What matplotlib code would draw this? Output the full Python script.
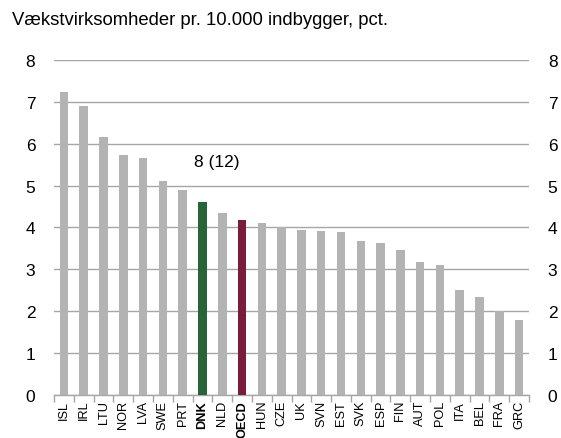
import matplotlib
matplotlib.use("Agg")
import matplotlib.pyplot as plt
import numpy as np

plt.rcParams['font.family'] = ['Liberation Sans', 'DejaVu Sans']

countries = ["ISL", "IRL", "LTU", "NOR", "LVA", "SWE", "PRT", "DNK", "NLD", "OECD",
             "HUN", "CZE", "UK", "SVN", "EST", "SVK", "ESP", "FIN", "AUT", "POL",
             "ITA", "BEL", "FRA", "GRC"]
values = [7.23, 6.90, 6.15, 5.73, 5.65, 5.12, 4.90, 4.62, 4.35, 4.19,
          4.10, 4.02, 3.95, 3.92, 3.89, 3.68, 3.62, 3.47, 3.18, 3.10,
          2.51, 2.34, 2.00, 1.78]
highlight = {"DNK": "#276538", "OECD": "#7b1c3d"}
y_ticks = [0, 1, 2, 3, 4, 5, 6, 7, 8]
title = "Vækstvirksomheder pr. 10.000 indbygger, pct."
annotation = "8 (12)"

fig = plt.figure(figsize=(5.61, 4.39), dpi=100)
ax = fig.add_axes([0.0963, 0.098, 0.8467, 0.763])

x = np.arange(len(countries))
colors = [highlight.get(c, "#b3b3b3") for c in countries]
ax.bar(x, values, width=0.43, color=colors, zorder=3)

ax.set_xlim(-0.5, len(countries) - 0.5)
ax.set_ylim(0, 8)
ax.set_yticks(y_ticks)
ax.yaxis.grid(True, color="#a6a6a6", linewidth=1.0, zorder=0)
ax.set_axisbelow(True)

for s in ["left", "right", "top"]:
    ax.spines[s].set_visible(False)
ax.spines["bottom"].set_color("#a6a6a6")
ax.spines["bottom"].set_linewidth(1.0)

ax.tick_params(axis="y", length=0, labelsize=12.5, pad=13.5,
               labelleft=True, labelright=True)
ax.set_xticks(x)
ax.set_xticklabels(countries, rotation=90, fontsize=9.2)
ax.tick_params(axis="x", length=0, pad=3.5)
for lbl in ax.get_xticklabels():
    if lbl.get_text() in highlight:
        lbl.set_fontweight("bold")

# minor ticks at category boundaries
ax.set_xticks(np.arange(-0.5, len(countries), 1.0), minor=True)
ax.tick_params(axis="x", which="minor", length=5, color="#a6a6a6", width=1.0)

ax.text(7.7, 5.58, annotation, fontsize=12.5, ha="center", va="center")

fig.text(0.021, 0.954, title, fontsize=13.3, ha="left", va="center")

fig.savefig("out.png", dpi=100)
